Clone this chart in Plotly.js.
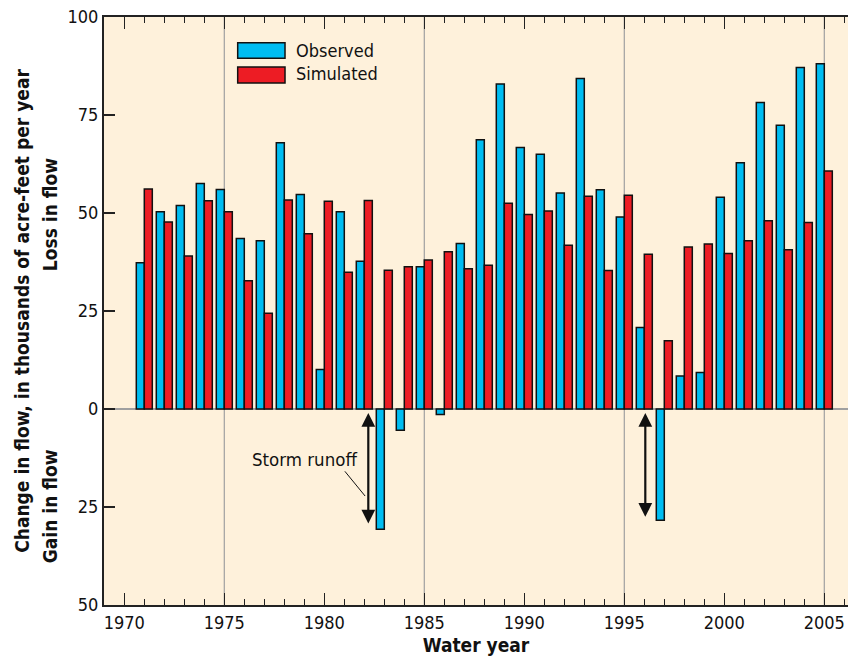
<!DOCTYPE html>
<html>
<head>
<meta charset="utf-8">
<script src="https://cdn.plot.ly/plotly-3.0.1.min.js"></script>
<style>html,body{margin:0;padding:0;background:#fff;}</style>
</head>
<body>
<div id="chart" style="width:848px;height:666px;"></div>
<script>
const years = [1971,1972,1973,1974,1975,1976,1977,1978,1979,1980,
               1981,1982,1983,1984,1985,1986,1987,1988,1989,1990,
               1991,1992,1993,1994,1995,1996,1997,1998,1999,2000,
               2001,2002,2003,2004,2005];
const observed = [37.3,50.3,51.9,57.5,56.0,43.5,42.9,67.9,54.7,10.1,
                  50.3,37.7,-30.7,-5.4,36.3,-1.4,42.2,68.7,82.9,66.7,
                  65.0,55.1,84.3,55.9,49.0,20.8,-28.4,8.4,9.3,54.0,
                  62.8,78.2,72.4,87.1,88.1];
const simulated = [56.1,47.7,39.0,53.1,50.3,32.7,24.4,53.3,44.7,53.0,
                   34.9,53.2,35.4,36.3,38.0,40.1,35.8,36.7,52.5,49.6,
                   50.5,41.8,54.3,35.3,54.5,39.5,17.4,41.3,42.1,39.7,
                   42.9,48.0,40.6,47.6,60.7];
const seriesNames = ['Observed','Simulated'];
const yTickVals = [-50,-25,0,25,50,75,100];
const yTickText = ['50','25','0','25','50','75','100'];
const gridYears = [1975,1985,1995,2005];
const stormYears = [1982.2,1996.05];
const stormLow = [-29.6,-27.9];

const FONT = '"Liberation Sans Narrow","DejaVu Sans Condensed","Roboto Condensed","Arial Narrow",sans-serif';
const CYAN = '#00BDF2';
const RED = '#ED1C24';

const traces = [
  {type:'bar', name:seriesNames[0], x:years, y:observed,
   marker:{color:CYAN, line:{color:'#111', width:1.5}}, showlegend:false},
  {type:'bar', name:seriesNames[1], x:years, y:simulated,
   marker:{color:RED, line:{color:'#111', width:1.5}}, showlegend:false}
];

const shapes = gridYears.map(g => ({type:'line', layer:'below', xref:'x', yref:'paper',
  x0:g, x1:g, y0:0, y1:1, line:{color:'#a0a0a0', width:1.2}}));
// legend boxes
shapes.push({type:'rect', xref:'paper', yref:'paper', x0:0.1797, x1:0.2433, y0:0.9298, y1:0.9563,
  fillcolor:CYAN, line:{color:'#111', width:1.5}});
shapes.push({type:'rect', xref:'paper', yref:'paper', x0:0.1797, x1:0.2433, y0:0.8878, y1:0.9150,
  fillcolor:RED, line:{color:'#111', width:1.5}});
// leader line for storm runoff label
shapes.push({type:'line', xref:'x', yref:'y', x0:1981.03, y0:-15.9, x1:1982.04, y1:-22.2,
  line:{color:'#111', width:1}});

const annotations = [
  {xref:'paper', yref:'paper', x:0.255, y:0.9435, text:seriesNames[0], showarrow:false,
   xanchor:'left', yanchor:'middle', font:{family:FONT, size:18, color:'#111'}},
  {xref:'paper', yref:'paper', x:0.255, y:0.9045, text:seriesNames[1], showarrow:false,
   xanchor:'left', yanchor:'middle', font:{family:FONT, size:18, color:'#111'}},
  {xref:'x', yref:'y', x:1979.0, y:-12.8, text:'Storm runoff', showarrow:false,
   xanchor:'center', yanchor:'middle', font:{family:FONT, size:18.5, color:'#111'}},
  {xref:'paper', yref:'y', x:-0.0726, y:49.7, text:'<b>Loss in flow</b>', showarrow:false,
   textangle:-90, xanchor:'center', yanchor:'middle', font:{family:FONT, size:19, color:'#111'}},
  {xref:'paper', yref:'y', x:-0.0726, y:-24.8, text:'<b>Gain in flow</b>', showarrow:false,
   textangle:-90, xanchor:'center', yanchor:'middle', font:{family:FONT, size:19, color:'#111'}}
];
stormYears.forEach((sx, i) => {
  annotations.push({xref:'x', yref:'y', axref:'x', ayref:'y', x:sx, y:-1.0, ax:sx, ay:stormLow[i],
    text:'', showarrow:true, arrowside:'end+start', arrowhead:2, arrowsize:1.25, arrowwidth:2.2,
    arrowcolor:'#111', standoff:0, startstandoff:0});
});

const layout = {
  width:848, height:666,
  margin:{l:104, r:0, t:17, b:61},
  paper_bgcolor:'#ffffff', plot_bgcolor:'#FEF1DB',
  barmode:'group', bargap:0.2, bargroupgap:0,
  font:{family:FONT, size:18, color:'#111'},
  xaxis:{range:[1968.985, 2006.185], tick0:1970, dtick:5, ticks:'inside', ticklen:12, tickwidth:1.5,
    tickcolor:'#222', showgrid:false, zeroline:false, showline:true, linecolor:'#222', linewidth:2,
    mirror:'ticks', tickfont:{family:FONT, size:18, color:'#111'},
    minor:{dtick:1, tick0:1970, ticks:'inside', ticklen:6, tickwidth:1.5, tickcolor:'#222', showgrid:false},
    title:{text:'<b>Water year</b>', font:{family:FONT, size:19, color:'#111'}, standoff:7}},
  yaxis:{range:[-50,100], tickvals:yTickVals, ticktext:yTickText, ticks:'inside', ticklen:11, tickwidth:1.5,
    tickcolor:'#222', showgrid:false, zeroline:true, zerolinecolor:'#a0a0a0', zerolinewidth:1.2,
    showline:true, linecolor:'#222', linewidth:2, mirror:false,
    tickfont:{family:FONT, size:18, color:'#111'},
    title:{text:'<b>Change in flow, in thousands of acre-feet per year</b>',
      font:{family:FONT, size:19, color:'#111'}, standoff:33}},
  shapes:shapes, annotations:annotations
};

Plotly.newPlot('chart', traces, layout, {displayModeBar:false, staticPlot:true});
</script>
</body>
</html>
